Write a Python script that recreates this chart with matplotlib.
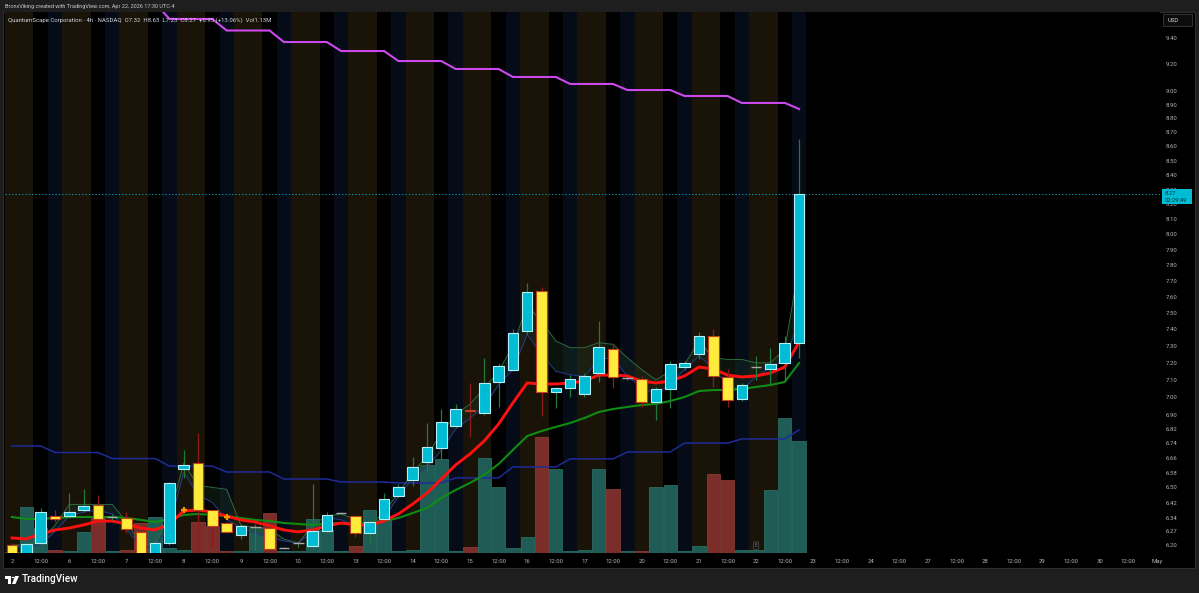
import numpy as np
import matplotlib
matplotlib.use("Agg")
import matplotlib.pyplot as plt
from matplotlib.patches import Rectangle, Circle, Polygon
from matplotlib.ticker import NullLocator

plt.rcParams['font.family'] = ['Roboto', 'DejaVu Sans']

W, H = 1199, 593

# ---------------- data (4h bars, Apr 2 -> Apr 22) ----------------
opens = [6.20, 6.14, 6.21, 6.349, 6.349, 6.38, 6.407, 6.344, 6.339, 6.266, 6.14, 6.21, 6.599, 6.632,
         6.38, 6.313, 6.251, 6.29, 6.287, 6.185, 6.21, 6.195, 6.272, 6.364, 6.349, 6.261, 6.333, 6.456,
         6.54, 6.637, 6.714, 6.836, 6.927, 6.909, 7.088, 7.158, 7.391, 7.637, 7.03, 7.053, 7.018, 7.14,
         7.282, 7.111, 7.105, 6.972, 7.047, 7.175, 7.252, 7.36, 7.117, 6.99, 7.175, 7.164, 7.199, 7.32]
highs = [6.21, 6.21, 6.39, 6.38, 6.47, 6.49, 6.46, 6.36, 6.37, 6.27, 6.22, 6.53, 6.703, 6.797,
         6.38, 6.32, 6.31, 6.31, 6.30, 6.19, 6.22, 6.52, 6.37, 6.37, 6.35, 6.33, 6.47, 6.52,
         6.667, 6.853, 6.932, 6.96, 7.082, 7.229, 7.20, 7.40, 7.688, 7.66, 7.06, 7.13, 7.14, 7.451,
         7.318, 7.13, 7.12, 7.06, 7.21, 7.21, 7.385, 7.403, 7.164, 7.08, 7.24, 7.288, 7.36, 8.65]
lows = [6.12, 6.12, 6.20, 6.317, 6.34, 6.37, 6.33, 6.33, 6.26, 6.12, 6.12, 6.20, 6.55, 6.175,
        6.185, 6.26, 6.23, 6.175, 6.17, 6.18, 6.19, 6.19, 6.26, 6.36, 6.24, 6.21, 6.33, 6.45,
        6.51, 6.59, 6.65, 6.83, 6.775, 6.90, 6.944, 7.15, 7.37, 6.892, 6.94, 7.00, 7.00, 7.09,
        7.053, 7.10, 6.944, 6.87, 6.94, 7.16, 7.22, 7.059, 6.944, 6.98, 7.10, 7.07, 7.10, 7.23]
closes = [6.14, 6.205, 6.37, 6.333, 6.37, 6.40, 6.333, 6.344, 6.282, 6.14, 6.21, 6.524, 6.621, 6.38,
          6.297, 6.266, 6.297, 6.29, 6.18, 6.185, 6.21, 6.272, 6.354, 6.364, 6.261, 6.318, 6.44, 6.50,
          6.61, 6.719, 6.859, 6.932, 6.922, 7.082, 7.181, 7.379, 7.631, 7.03, 7.053, 7.105, 7.123, 7.294,
          7.117, 7.111, 6.972, 7.047, 7.193, 7.199, 7.36, 7.123, 6.984, 7.07, 7.175, 7.193, 7.32, 8.27]
volume_k = [10, 464, 250, 30, 20, 212, 353, 20, 30, 303, 363, 50, 30, 313,
            272, 20, 20, 262, 404, 20, 20, 343, 232, 20, 71, 434, 333, 20,
            30, 888, 948, 20, 61, 959, 666, 50, 161, 1170, 848, 20, 30, 848,
            646, 20, 20, 666, 686, 20, 71, 797, 737, 30, 30, 636, 1362, 1130]

ema_fast = [6.236, 6.231, 6.256, 6.277, 6.287, 6.303, 6.323, 6.323, 6.308, 6.287, 6.277, 6.308, 6.376, 6.381,
            6.370, 6.349, 6.329, 6.318, 6.298, 6.277, 6.267, 6.277, 6.298, 6.313, 6.303, 6.303, 6.323, 6.360,
            6.412, 6.470, 6.545, 6.621, 6.681, 6.753, 6.847, 6.967, 7.082, 7.076, 7.076, 7.082, 7.093, 7.128,
            7.128, 7.123, 7.093, 7.082, 7.093, 7.123, 7.175, 7.164, 7.128, 7.117, 7.123, 7.140, 7.175, 7.324]
ema_slow = [6.344, 6.334, 6.334, 6.339, 6.344, 6.344, 6.344, 6.344, 6.339, 6.329, 6.318, 6.334, 6.355, 6.360,
            6.355, 6.349, 6.339, 6.329, 6.323, 6.313, 6.308, 6.303, 6.308, 6.313, 6.308, 6.313, 6.323, 6.339,
            6.365, 6.391, 6.444, 6.486, 6.524, 6.567, 6.626, 6.703, 6.780, 6.808, 6.831, 6.853, 6.881, 6.915,
            6.932, 6.944, 6.955, 6.961, 6.978, 7.001, 7.035, 7.041, 7.041, 7.047, 7.059, 7.070, 7.088, 7.199]
daily_blue = [6.725, 6.725, 6.725, 6.689, 6.689, 6.689, 6.689, 6.656, 6.656, 6.656, 6.656, 6.615, 6.615, 6.615,
              6.615, 6.583, 6.583, 6.583, 6.583, 6.545, 6.545, 6.545, 6.545, 6.529, 6.529, 6.529, 6.529, 6.524,
              6.524, 6.524, 6.524, 6.551, 6.551, 6.551, 6.551, 6.610, 6.610, 6.610, 6.610, 6.654, 6.654, 6.654,
              6.654, 6.692, 6.692, 6.692, 6.692, 6.741, 6.741, 6.741, 6.741, 6.764, 6.764, 6.764, 6.764, 6.814]
nan = float('nan')
daily_magenta = [nan, nan, nan, nan, nan, nan, nan, 9.674, 9.674, 9.674, 9.674, 9.548, 9.548, 9.548,
                 9.548, 9.458, 9.458, 9.458, 9.458, 9.369, 9.369, 9.369, 9.369, 9.300, 9.300, 9.300, 9.300, 9.224,
                 9.224, 9.224, 9.224, 9.164, 9.164, 9.164, 9.164, 9.104, 9.104, 9.104, 9.104, 9.052, 9.052, 9.052,
                 9.052, 9.007, 9.007, 9.007, 9.007, 8.963, 8.963, 8.963, 8.963, 8.912, 8.912, 8.912, 8.912, 8.868]
thin_upper = [6.20, 6.20, 6.22, 6.30, 6.41, 6.41, 6.41, 6.41, 6.32, 6.20, 6.20, 6.35, 6.63, 6.51,
              6.50, 6.49, 6.30, 6.29, 6.28, 6.23, 6.21, 6.30, 6.35, 6.36, 6.33, 6.30, 6.37, 6.47,
              6.58, 6.67, 6.80, 6.90, 6.96, 7.05, 7.15, 7.30, 7.55, 7.45, 7.33, 7.29, 7.29, 7.32,
              7.31, 7.23, 7.16, 7.10, 7.15, 7.19, 7.33, 7.23, 7.22, 7.22, 7.20, 7.20, 7.28, 7.80]
thin_lower = [6.19, 6.19, 6.20, 6.27, 6.35, 6.37, 6.38, 6.36, 6.28, 6.19, 6.19, 6.30, 6.58, 6.46,
              6.42, 6.33, 6.29, 6.26, 6.24, 6.22, 6.21, 6.27, 6.34, 6.33, 6.30, 6.29, 6.34, 6.45,
              6.55, 6.61, 6.70, 6.82, 6.88, 6.95, 7.07, 7.16, 7.37, 7.25, 7.15, 7.13, 7.12, 7.22,
              7.23, 7.12, 7.06, 7.01, 7.08, 7.16, 7.24, 7.17, 7.07, 7.04, 7.12, 7.17, 7.22, 7.45]
signal_idx = [12, 15]
signal_price = [6.381, 6.344]
earnings_idx = 52
last_price = 8.27

day_labels = ['2', '6', '7', '8', '9', '10', '13', '14', '15', '16', '17', '20', '21', '22',
              '23', '24', '27', '28', '29', '30', 'May']
price_ticks = [9.40, 9.20, 9.00, 8.90, 8.80, 8.70, 8.60, 8.50, 8.40, 8.30, 8.20, 8.10, 8.00, 7.90,
               7.80, 7.70, 7.60, 7.50, 7.40, 7.30, 7.20, 7.10, 7.00, 6.90, 6.82, 6.74, 6.66, 6.58,
               6.50, 6.42, 6.34, 6.27, 6.20]
header = ("QuantumScape Corporation · 4h · NASDAQ  O7.32  H8.65  L7.23  C8.27  "
          "+0.95 (+13.06%)  Vol1.13M")
credit = "BronxViking created with TradingView.com, Apr 22, 2026 17:30 UTC-4"

# ---------------- figure ----------------
n = len(closes)
x = np.arange(n)
fig = plt.figure(figsize=(W / 100, H / 100), dpi=100, facecolor='#1e1e1e')


def frect(px0, py0, px1, py1):
    return [px0 / W, 1 - py1 / H, (px1 - px0) / W, (py1 - py0) / H]


fig.add_artist(Rectangle((3 / W, 1 - 568 / H), (1195 - 3) / W, (568 - 12) / H,
                         transform=fig.transFigure, facecolor='black',
                         edgecolor='#2e2e2e', lw=0.8, zorder=-5))

rect = frect(5, 12, 1160, 553)
XL = (-0.49, 80.22)
axv = fig.add_axes(rect)
ax = fig.add_axes(rect)

# --- background sessions + volume ---
axv.set_facecolor('black')
axv.set_xlim(*XL)
vol_top = 1130 * 541 / 112
axv.set_ylim(0, vol_top)
for d in range(n // 4):
    axv.axvspan(4 * d - 0.5, 4 * d + 1.5, color='#1a1308', lw=0, zorder=0)
    axv.axvspan(4 * d + 2.5, 4 * d + 3.5, color='#050b17', lw=0, zorder=0)
up = [c >= o for o, c in zip(opens, closes)]
vcol = ['#1f5c55' if u else '#7b2d2a' for u in up]
vedge = ['#2c776d' if u else '#93403a' for u in up]
axv.bar(x, volume_k, width=0.93, color=vcol, edgecolor=vedge, lw=0.5, zorder=2)
axv.set_xticks([])
axv.set_yticks([])
for s in axv.spines.values():
    s.set_visible(False)

# --- price pane ---
ax.set_facecolor('none')
ax.set_yscale('log')
ax.set_xlim(*XL)
ax.set_ylim(6.1594, 9.6028)

ax.plot(x, daily_magenta, color='#cc48ec', lw=1.5, zorder=2, solid_joinstyle='miter')
ax.plot(x, daily_blue, color='#1f2b99', lw=1.1, zorder=2)
ax.fill_between(x, thin_lower, thin_upper, color='#1d3a26', alpha=0.35, lw=0, zorder=2)
ax.plot(x, thin_upper, color='#2f6b40', lw=0.7, zorder=2)
ax.plot(x, thin_lower, color='#27398f', lw=0.7, zorder=2)
ax.plot(x, ema_slow, color='#0f8c14', lw=1.5, zorder=3)
ax.plot(x, ema_fast, color='#ff1010', lw=2.1, zorder=3)
ax.axhline(last_price, color='#00bcd4', lw=0.6, ls=(0, (1.5, 2.5)), zorder=3)

bw = 0.74
for i in range(n):
    o, h, l, c = opens[i], highs[i], lows[i], closes[i]
    if abs(c - o) < 1e-9:
        ax.vlines(i, l, h, color='#2a7a45', lw=0.8, zorder=4)
        ax.hlines(o, i - bw / 2, i + bw / 2, color='#a8a8a8', lw=1.0, zorder=5)
        continue
    if c > o:
        wc, fc, ec = '#1f7a3e', '#00bcd4', '#b7f0f7'
    else:
        wc, fc, ec = '#8a1c1c', '#ffeb3b', '#c2401e'
    ax.vlines(i, l, h, color=wc, lw=0.9, zorder=4)
    ax.add_patch(Rectangle((i - bw / 2, min(o, c)), bw, abs(c - o), facecolor=fc,
                           edgecolor=ec, lw=0.8, zorder=5))

ax.plot(signal_idx, signal_price, '+', color='#ff9800', ms=5, mew=1.6, zorder=6)
ax.text(earnings_idx, 6.197, 'E', fontsize=3.5, color='#8a8a8a', ha='center', va='center',
        zorder=6, bbox=dict(boxstyle='round,pad=0.25', fc='#101010', ec='#5a5a5a', lw=0.5))

# ticks
ax.set_yticks(price_ticks, labels=[f"{p:.2f}" for p in price_ticks])
ax.yaxis.set_minor_locator(NullLocator())
ax.yaxis.tick_right()
ax.tick_params(axis='y', which='both', length=0, pad=4.4, labelsize=4.3, labelcolor='#b2b5be')
xpos, xlab = [], []
for k, lab in enumerate(day_labels):
    xpos.append(4 * k)
    xlab.append(lab)
    if lab != 'May':
        xpos.append(4 * k + 2)
        xlab.append('12:00')
ax.set_xticks(xpos, labels=xlab)
ax.tick_params(axis='x', length=0, pad=4.5, labelsize=4.3, labelcolor='#b2b5be')
for s in ax.spines.values():
    s.set_visible(False)

# ---------------- annotations (figure level) ----------------
fig.text(5 / W, 1 - 6.5 / H, credit, fontsize=4.0, color='#c8c8c8', va='center', ha='left')
fig.text(8 / W, 1 - 20 / H, header, fontsize=4.3, color='#d1d4dc', va='center', ha='left')

# last price label
fig.add_artist(Rectangle((1162 / W, 1 - 204 / H), 30 / W, 15 / H, transform=fig.transFigure,
                         facecolor='#00bcd4', edgecolor='none', zorder=5))
fig.text(1165 / W, 1 - 193.5 / H, f"{last_price:.2f}", fontsize=4.2, color='#06323a',
         va='center', ha='left', zorder=6)
fig.text(1165 / W, 1 - 200.5 / H, "02:29:49", fontsize=4.2, color='#06323a',
         va='center', ha='left', zorder=6)

# USD box
fig.add_artist(Rectangle((1163 / W, 1 - 26 / H), 29 / W, 12 / H, transform=fig.transFigure,
                         facecolor='#0c0c0c', edgecolor='#3a3a3a', lw=0.6, zorder=5))
fig.text(1168 / W, 1 - 20 / H, "USD", fontsize=4.2, color='#d1d4dc', va='center', ha='left', zorder=6)

# TradingView logo + wordmark
tf = fig.transFigure
fig.add_artist(Rectangle((5 / W, 1 - 579 / H), 6 / W, 3 / H, transform=tf, facecolor='white', lw=0))
fig.add_artist(Rectangle((8 / W, 1 - 584 / H), 3 / W, 8 / H, transform=tf, facecolor='white', lw=0))
fig.add_artist(Circle((13 / W, 1 - 577.5 / H), 1.4 / W, transform=tf, facecolor='white', lw=0))
fig.add_artist(Polygon([(15 / W, 1 - 576 / H), (19 / W, 1 - 576 / H), (15.5 / W, 1 - 584 / H),
                        (12 / W, 1 - 584 / H)], closed=True, transform=tf, facecolor='white', lw=0))
fig.text(21.5 / W, 1 - 579.5 / H, "TradingView", fontsize=7.2, color='white', va='center',
         ha='left', fontweight='medium')

fig.savefig("out.png", dpi=100, facecolor=fig.get_facecolor())
